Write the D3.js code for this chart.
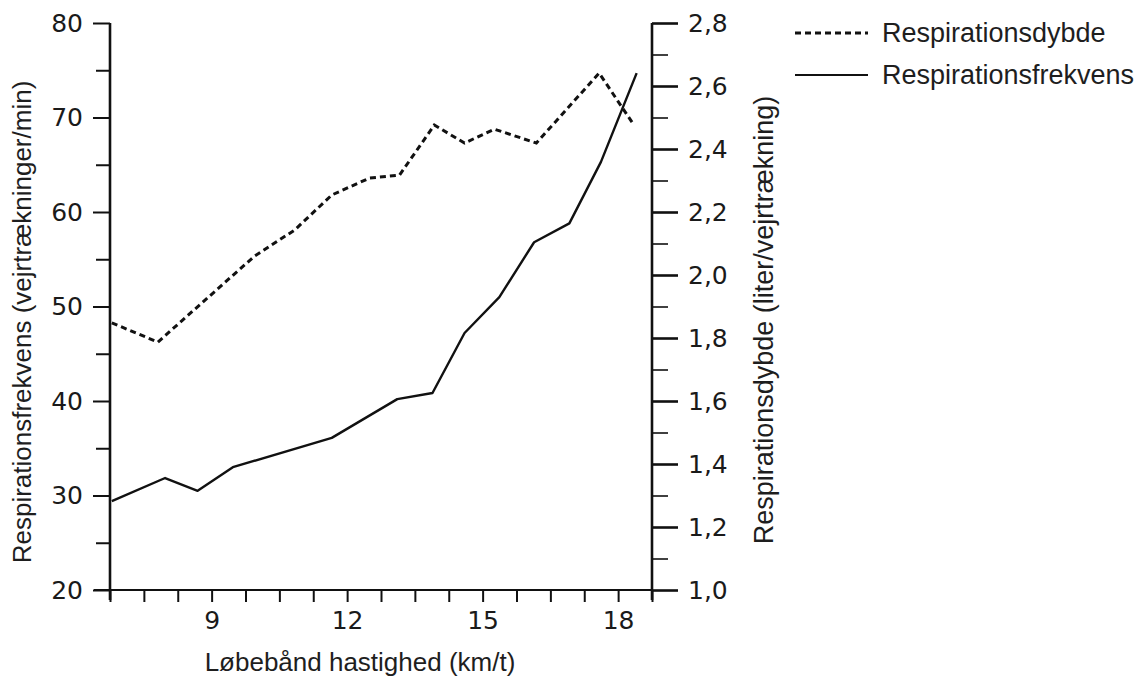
<!DOCTYPE html>
<html>
<head>
<meta charset="utf-8">
<script src="https://cdn.jsdelivr.net/npm/d3@7"></script>
<style>
  html, body { margin: 0; padding: 0; background: #fff; }
  svg { display: block; }
  .tick text { font-family: "DejaVu Sans", sans-serif; fill: #1a1a1a; }
  .title { font-family: "Liberation Sans", Arial, sans-serif; fill: #1e1e1e; }
</style>
</head>
<body>
<div id="chart"></div>
<script>
// ---- data ----
// Respirationsfrekvens (solid line, left axis, vejrtrækninger/min)
const frekvensSpeed = [6.79, 7.97, 8.69, 9.47, 11.66, 13.11, 13.89, 14.6, 15.37, 16.14, 16.92, 17.62, 18.41];
const frekvensValue = [29.4, 31.85, 30.5, 33.0, 36.1, 40.2, 40.85, 47.2, 51.0, 56.8, 58.8, 65.3, 74.7];
// Respirationsdybde (dashed line, right axis, liter/vejrtrækning)
const dybdeSpeed = [6.79, 7.81, 9.95, 10.84, 11.66, 12.5, 13.16, 13.93, 14.6, 15.26, 16.19, 17.58, 18.35];
const dybdeValue = [1.848, 1.787, 2.06, 2.143, 2.254, 2.308, 2.317, 2.476, 2.419, 2.463, 2.419, 2.641, 2.476];

const xTicks = d3.range(0, 17).map(i => 6.75 + i * 0.75);
const xTickLabels = [9, 12, 15, 18];
const leftTicks = d3.range(20, 81, 5);
const rightTicks = d3.range(10, 29).map(i => i / 10);

const xTitle = "Løbebånd hastighed (km/t)";
const leftTitle = "Respirationsfrekvens (vejrtrækninger/min)";
const rightTitle = "Respirationsdybde (liter/vejrtrækning)";
const legendLabels = ["Respirationsdybde", "Respirationsfrekvens"];

// ---- layout ----
const W = 1148, H = 683;
const svg = d3.select("#chart").append("svg").attr("width", W).attr("height", H);

const x = d3.scaleLinear().domain([6.75, 18.75]).range([110, 652]);
const yL = d3.scaleLinear().domain([20, 80]).range([590, 23]);
const yR = d3.scaleLinear().domain([1.0, 2.8]).range([590, 23]);

// bottom axis
const xAxis = d3.axisBottom(x).tickValues(xTicks).tickSize(12).tickPadding(9)
  .tickFormat(d => xTickLabels.some(v => Math.abs(v - d) < 1e-6) ? d3.format("d")(d) : "");
const gx = svg.append("g").attr("transform", `translate(0,${yL(20)})`).call(xAxis);
gx.select(".domain").remove();
gx.selectAll(".tick line").attr("stroke", "#111").attr("stroke-width", 2);
gx.selectAll(".tick text").attr("font-size", 25);

// left axis
const yAxisL = d3.axisLeft(yL).tickValues(leftTicks).tickSize(17).tickPadding(10)
  .tickFormat(d => d % 10 === 0 ? d : "");
const gl = svg.append("g").attr("transform", `translate(${x(6.75)},0)`).call(yAxisL);
gl.select(".domain").remove();
gl.selectAll(".tick line").attr("stroke", "#111").attr("stroke-width", 2)
  .attr("x2", d => d % 10 === 0 ? -17 : -14);
gl.selectAll(".tick text").attr("font-size", 25);

// right axis
const isMajorR = d => Math.round(d * 10) % 2 === 0;
const yAxisR = d3.axisRight(yR).tickValues(rightTicks).tickSize(26).tickPadding(10)
  .tickFormat(d => isMajorR(d) ? d3.format(".1f")(d).replace(".", ",") : "");
const gr = svg.append("g").attr("transform", `translate(${x(18.75)},0)`).call(yAxisR);
gr.select(".domain").remove();
gr.selectAll(".tick line").attr("stroke", "#111")
  .attr("stroke-width", d => isMajorR(d) ? 2.6 : 1.6)
  .attr("x2", d => isMajorR(d) ? 26 : 16);
gr.selectAll(".tick text").attr("font-size", 25);

// axis lines
svg.append("line").attr("x1", x(6.75)).attr("x2", x(6.75)).attr("y1", yL(80)).attr("y2", yL(20) + 10)
  .attr("stroke", "#111").attr("stroke-width", 2.6);
svg.append("line").attr("x1", x(18.75)).attr("x2", x(18.75)).attr("y1", yR(2.8)).attr("y2", yR(1.0) + 10)
  .attr("stroke", "#111").attr("stroke-width", 2.6);
svg.append("line").attr("x1", x(6.75) - 16).attr("x2", x(18.75)).attr("y1", yL(20)).attr("y2", yL(20))
  .attr("stroke", "#111").attr("stroke-width", 2.2);

// lines
const lineL = d3.line().x((d, i) => x(frekvensSpeed[i])).y(d => yL(d));
const lineR = d3.line().x((d, i) => x(dybdeSpeed[i])).y(d => yR(d));
svg.append("path").attr("d", lineR(dybdeValue)).attr("fill", "none")
  .attr("stroke", "#111").attr("stroke-width", 3).attr("stroke-dasharray", "6,4");
svg.append("path").attr("d", lineL(frekvensValue)).attr("fill", "none")
  .attr("stroke", "#111").attr("stroke-width", 2.4).attr("stroke-linejoin", "round");

// titles
svg.append("text").attr("class", "title").attr("x", 360).attr("y", 671)
  .attr("text-anchor", "middle").attr("font-size", 26).text(xTitle);
svg.append("text").attr("class", "title")
  .attr("transform", "translate(31,322) rotate(-90)")
  .attr("text-anchor", "middle").attr("font-size", 26).text(leftTitle);
svg.append("text").attr("class", "title")
  .attr("transform", "translate(773,320) rotate(-90)")
  .attr("text-anchor", "middle").attr("font-size", 27).text(rightTitle);

// legend
const legendY = [33, 75];
const legend = svg.append("g");
legendLabels.forEach((lab, i) => {
  legend.append("line").attr("x1", 795).attr("x2", 868).attr("y1", legendY[i]).attr("y2", legendY[i])
    .attr("stroke", "#111").attr("stroke-width", i === 0 ? 3 : 2)
    .attr("stroke-dasharray", i === 0 ? "6,4" : null);
  legend.append("text").attr("class", "title").attr("x", 882).attr("y", legendY[i])
    .attr("dy", "0.35em").attr("font-size", 27).text(lab);
});
</script>
</body>
</html>
